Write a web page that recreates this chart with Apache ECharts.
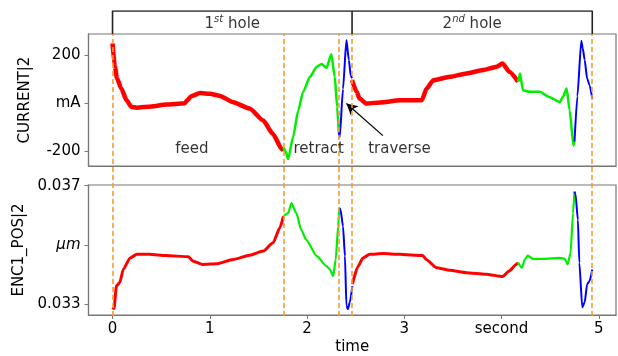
<!DOCTYPE html>
<html>
<head>
<meta charset="utf-8">
<script src="https://cdn.jsdelivr.net/npm/echarts@6/dist/echarts.min.js"></script>
<style>
  html, body { margin: 0; padding: 0; background: #fff; }
  #main { width: 618px; height: 356px; }
</style>
</head>
<body>
<div id="main"></div>
<script>
// ---- data (time in seconds) ----
// CURRENT|2 (mA)
const curRed1T = [0, 0.024, 0.047, 0.09, 0.144, 0.195, 0.25, 0.4, 0.55, 0.74, 0.77, 0.81, 0.9, 1.0, 1.1, 1.24, 1.41, 1.55, 1.65, 1.74, 1.757]
const curRed1V = [251, 153, 104, 62, 13, -15, -18, -13, -5, 0, 13, 30, 43, 40, 32, 5, -22, -72, -128, -191, -198]
const curGreen1T = [1.757, 1.78, 1.805, 1.856, 1.91, 1.96, 2.03, 2.1, 2.15, 2.2, 2.25, 2.285, 2.31, 2.326]
const curGreen1V = [-185, -200, -233, -142, -29, 48, 111, 153, 165, 148, 205, 111, -15, -120]
const curBlue1T = [2.326, 2.336, 2.37, 2.405, 2.43, 2.45, 2.463]
const curBlue1V = [-120, -142, 60, 265, 181, 115, 105]
const curRed2T = [2.463, 2.51, 2.54, 2.61, 2.78, 2.95, 3.18, 3.23, 3.3, 3.47, 3.64, 3.81, 3.95, 4.01, 4.08, 4.17]
const curRed2V = [97, 48, 20, -1, 5, 13, 13, 62, 97, 111, 125, 139, 153, 167, 132, 90]
const curGreen2T = [4.17, 4.19, 4.22, 4.29, 4.39, 4.49, 4.6, 4.63, 4.67, 4.7, 4.74, 4.75]
const curGreen2V = [90, 125, 55, 48, 48, 27, 5, 27, 62, -29, -177, -160]
const curBlue2T = [4.75, 4.78, 4.82, 4.835, 4.855, 4.88, 4.905, 4.933]
const curBlue2V = [-160, 30, 262, 230, 181, 104, 76, 20]

// ENC1_POS|2 (um)
const encRed1T = [0, 0.015, 0.04, 0.075, 0.11, 0.18, 0.25, 0.38, 0.55, 0.78, 0.83, 0.93, 1.07, 1.24, 1.41, 1.55, 1.65, 1.72, 1.757]
const encRed1V = [0.03289, 0.03285, 0.03361, 0.03373, 0.03417, 0.03456, 0.03468, 0.03468, 0.03464, 0.0346, 0.03445, 0.03434, 0.03436, 0.03451, 0.03465, 0.03479, 0.03507, 0.03557, 0.03596]
const encGreen1T = [1.757, 1.805, 1.84, 1.89, 1.94, 1.99, 2.1, 2.2, 2.235, 2.27, 2.295, 2.32, 2.33]
const encGreen1V = [0.03596, 0.03607, 0.03641, 0.03607, 0.03551, 0.03518, 0.03462, 0.03428, 0.03417, 0.03395, 0.03451, 0.03562, 0.03618]
const encBlue1T = [2.33, 2.336, 2.345, 2.37, 2.39, 2.405, 2.42, 2.44, 2.466]
const encBlue1V = [0.03618, 0.03624, 0.03618, 0.03562, 0.03462, 0.03294, 0.03283, 0.03306, 0.03361]
const encRed2T = [2.466, 2.525, 2.575, 2.645, 2.78, 2.95, 3.19, 3.225, 3.33, 3.47, 3.64, 3.84, 4.01, 4.08, 4.15, 4.17]
const encRed2V = [0.03367, 0.03428, 0.03456, 0.03468, 0.03471, 0.03468, 0.03464, 0.03451, 0.03423, 0.03414, 0.03406, 0.03401, 0.03393, 0.03412, 0.03434, 0.0344]
const encGreen2T = [4.17, 4.21, 4.24, 4.27, 4.32, 4.43, 4.6, 4.65, 4.68, 4.71, 4.735, 4.75]
const encGreen2V = [0.0344, 0.03423, 0.03451, 0.03464, 0.03453, 0.03453, 0.03456, 0.03453, 0.03434, 0.03473, 0.03607, 0.0368]
const encBlue2T = [4.75, 4.76, 4.785, 4.8, 4.83, 4.855, 4.88, 4.905, 4.933]
const encBlue2V = [0.0368, 0.03674, 0.03585, 0.0344, 0.03289, 0.03306, 0.03367, 0.03378, 0.03417]

// phase boundaries, holes
const phaseLines = [0, 1.757, 2.326, 2.463, 4.933]
const holeEdges = [0, 2.463, 4.933]
const holeNames = ['1{s|st} hole', '2{s|nd} hole']

// ticks
const xTicks = [0, 1, 2, 3, 4, 5]
const xTickLabels = ['0', '1', '2', '3', 'second', '5']
const curTicks = [-200, 0, 200]
const curTickLabels = ['-200', 'mA', '200']
const encTicks = [0.033, 0.035, 0.037]
const encTickLabels = ['0.033', '{i|μm}', '0.037']

// text annotations in the current plot
const noteNames = ['feed', 'retract', 'traverse']
const noteT = [0.815, 2.12, 2.95]
const noteV = [-190, -190, -190]
const arrowFrom = [2.78, -135]
const arrowTo = [2.405, -1]

const FONT = 'DejaVu Sans'
const TXT = '#000000'
const FRAME = '#777777'
const ORANGE = '#ff9a1f'
const X_MIN = -0.247, X_MAX = 5.177
const FS = 15

const zip = (t, v) => t.map((x, i) => [x, v[i]])

const chart = echarts.init(document.getElementById('main'), null, { renderer: 'canvas' })

const baseX = (gridIndex, showLabels) => ({
  type: 'value', gridIndex, min: X_MIN, max: X_MAX,
  axisLine: { show: true, onZero: false, lineStyle: { color: FRAME, width: 1.2 } },
  axisTick: { show: showLabels, length: 4, customValues: xTicks, lineStyle: { color: FRAME } },
  axisLabel: {
    show: showLabels, customValues: xTicks, margin: 7,
    color: TXT, fontFamily: FONT, fontSize: FS,
    formatter: (v) => xTickLabels[xTicks.indexOf(v)] ?? ''
  },
  splitLine: { show: false },
  name: showLabels ? 'time' : '', nameLocation: 'middle', nameGap: 25,
  nameTextStyle: { color: TXT, fontFamily: FONT, fontSize: FS }
})

const hiddenX = (gridIndex) => ({
  type: 'value', gridIndex, min: X_MIN, max: X_MAX, show: false, splitLine: { show: false }
})

const seg = (name, t, v, color, width, axis) => ({
  name, type: 'line', xAxisIndex: axis, yAxisIndex: axis,
  data: zip(t, v), showSymbol: false, symbol: 'none',
  smooth: 0.2, smoothMonotone: 'x',
  lineStyle: { color, width, join: 'round' }, z: 3, silent: true
})

const option = {
  animation: false,
  backgroundColor: '#fff',
  grid: [
    { left: 88.5, right: 2, top: 34, height: 132, show: true, borderColor: FRAME, borderWidth: 1.2 },
    { left: 88.5, right: 2, top: 185, height: 131, show: true, borderColor: FRAME, borderWidth: 1.2 },
    { left: 88.5, right: 2, top: 34, height: 282 },
    { left: 88.5, right: 2, top: 11, height: 23 }
  ],
  xAxis: [baseX(0, false), baseX(1, true), hiddenX(2), hiddenX(3)],
  yAxis: [
    {
      type: 'value', gridIndex: 0, min: -262, max: 290,
      axisLine: { show: true, onZero: false, lineStyle: { color: FRAME, width: 1.2 } },
      axisTick: { show: true, length: 4, customValues: curTicks, lineStyle: { color: FRAME } },
      axisLabel: {
        customValues: curTicks, margin: 8, color: TXT, fontFamily: FONT, fontSize: FS,
        formatter: (v) => curTickLabels[curTicks.indexOf(v)] ?? ''
      },
      splitLine: { show: false },
      name: 'CURRENT|2', nameLocation: 'middle', nameGap: 56, nameRotate: 90,
      nameTextStyle: { color: TXT, fontFamily: FONT, fontSize: FS }
    },
    {
      type: 'value', gridIndex: 1, min: 0.032631, max: 0.037023,
      axisLine: { show: true, onZero: false, lineStyle: { color: FRAME, width: 1.2 } },
      axisTick: { show: true, length: 4, customValues: encTicks, lineStyle: { color: FRAME } },
      axisLabel: {
        customValues: encTicks, margin: 8, color: TXT, fontFamily: FONT, fontSize: FS,
        formatter: (v) => {
          const i = encTicks.findIndex(x => Math.abs(x - v) < 1e-9)
          return i >= 0 ? encTickLabels[i] : ''
        },
        rich: { i: { fontStyle: 'italic', fontFamily: FONT, fontSize: FS, color: TXT } }
      },
      splitLine: { show: false },
      name: 'ENC1_POS|2', nameLocation: 'middle', nameGap: 56, nameRotate: 90,
      nameTextStyle: { color: TXT, fontFamily: FONT, fontSize: FS }
    },
    { type: 'value', gridIndex: 2, min: 0, max: 1, show: false, splitLine: { show: false } },
    { type: 'value', gridIndex: 3, min: 0, max: 1, show: false, splitLine: { show: false } }
  ],
  series: [
    seg('cur red 1', curRed1T, curRed1V, '#ff0000', 4.5, 0),
    seg('cur green 1', curGreen1T, curGreen1V, '#00ee00', 2.5, 0),
    seg('cur blue 1', curBlue1T, curBlue1V, '#0000ff', 2, 0),
    seg('cur red 2', curRed2T, curRed2V, '#ff0000', 4.5, 0),
    seg('cur green 2', curGreen2T, curGreen2V, '#00ee00', 2.5, 0),
    seg('cur blue 2', curBlue2T, curBlue2V, '#0000ff', 2, 0),
    seg('enc red 1', encRed1T, encRed1V, '#ff0000', 3, 1),
    seg('enc green 1', encGreen1T, encGreen1V, '#00ee00', 2.2, 1),
    seg('enc blue 1', encBlue1T, encBlue1V, '#0000ff', 2, 1),
    seg('enc red 2', encRed2T, encRed2V, '#ff0000', 3, 1),
    seg('enc green 2', encGreen2T, encGreen2V, '#00ee00', 2.2, 1),
    seg('enc blue 2', encBlue2T, encBlue2V, '#0000ff', 2, 1),
    {
      // annotations + arrow
      type: 'scatter', xAxisIndex: 0, yAxisIndex: 0, symbolSize: 0, z: 6, silent: true,
      data: noteNames.map((n, i) => ({ name: n, value: [noteT[i], noteV[i]] })),
      label: {
        show: true, position: 'inside', formatter: '{b}',
        color: TXT, fontFamily: FONT, fontSize: FS
      },
      markLine: {
        silent: true, symbol: ['none', 'arrow'], symbolSize: [9, 11],
        lineStyle: { color: '#000', width: 1.3, type: 'solid' },
        label: { show: false },
        data: [[{ coord: arrowFrom }, { coord: arrowTo }]]
      }
    },
    {
      // dashed phase boundaries spanning both panels
      type: 'line', xAxisIndex: 2, yAxisIndex: 2, data: [], z: 5, silent: true,
      markLine: {
        silent: true, symbol: ['none', 'none'],
        lineStyle: { color: ORANGE, width: 1.6, type: [5, 3] },
        label: { show: false },
        data: phaseLines.map(x => ({ xAxis: x }))
      }
    },
    {
      // hole bracket
      type: 'line', xAxisIndex: 3, yAxisIndex: 3, z: 5, silent: true, showSymbol: false, symbol: 'none',
      data: [[holeEdges[0], 0], [holeEdges[0], 1], [holeEdges[2], 1], [holeEdges[2], 0]],
      lineStyle: { color: '#222', width: 1.6 }
    },
    {
      type: 'line', xAxisIndex: 3, yAxisIndex: 3, z: 5, silent: true, showSymbol: false, symbol: 'none',
      data: [[holeEdges[1], 0], [holeEdges[1], 1]],
      lineStyle: { color: '#222', width: 1.6 }
    },
    {
      type: 'scatter', xAxisIndex: 3, yAxisIndex: 3, symbolSize: 0, z: 6, silent: true,
      data: holeNames.map((n, i) => ({ name: n, value: [(holeEdges[i] + holeEdges[i + 1]) / 2, 0.45] })),
      label: {
        show: true, position: 'inside', formatter: '{b}',
        color: TXT, fontFamily: FONT, fontSize: FS, lineHeight: 18,
        rich: {
          s: { fontSize: 10, fontStyle: 'italic', fontFamily: FONT, color: TXT, verticalAlign: 'top', lineHeight: 10 }
        }
      }
    }
  ]
}

chart.setOption(option)
</script>
</body>
</html>
